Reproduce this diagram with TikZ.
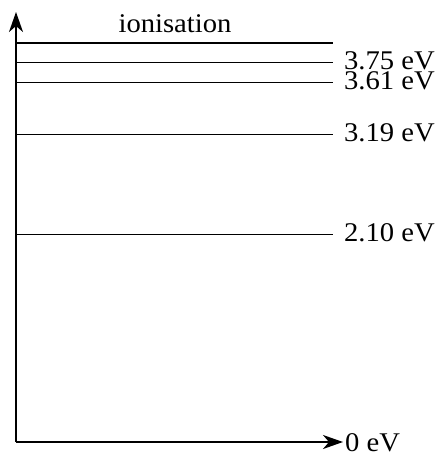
\documentclass[tikz,border=0pt]{standalone}
\usepackage{fontspec}
\setmainfont{Liberation Serif}
\usetikzlibrary{arrows.meta}
\tikzset{
  axis/.style={line width=1.8pt,-{Stealth[length=20pt,width=14pt,inset=6pt]}},
  level/.style={line width=1pt},
  lab/.style={inner sep=0pt,xscale=1.06,font=\fontsize{27}{27}\selectfont}
}
\begin{document}
\begin{tikzpicture}[x=1pt,y=-1pt]
  \useasboundingbox (0,0) rectangle (438,456);
  \coordinate (O) at (16,442); % origin
  \coordinate (top) at (16,12); % tip of energy axis
  \coordinate (right) at (343,442); % tip of ground axis
  \draw[axis] (O) -- (top); % energy axis
  \draw[axis] (O) -- (right); % ground level
  \node[lab,anchor=west] (zero) at (345,443) {0 eV}; % label of ground level
  \draw[line width=2.6pt] (16,43) -- (333,43); % ionisation level
  \node[lab,anchor=south] (ion) at (175,33) {ionisation}; % label of ionisation
  \foreach \y/\e [count=\i] in {62.5/3.75, 82.5/3.61, 134/3.19, 234.5/2.10}
    \draw[level] (16,\y) -- (333,\y) node[lab,anchor=west,xshift=10pt,yshift=1.5pt] (lev\i) {\e~eV}; % levels
\end{tikzpicture}
\end{document}
